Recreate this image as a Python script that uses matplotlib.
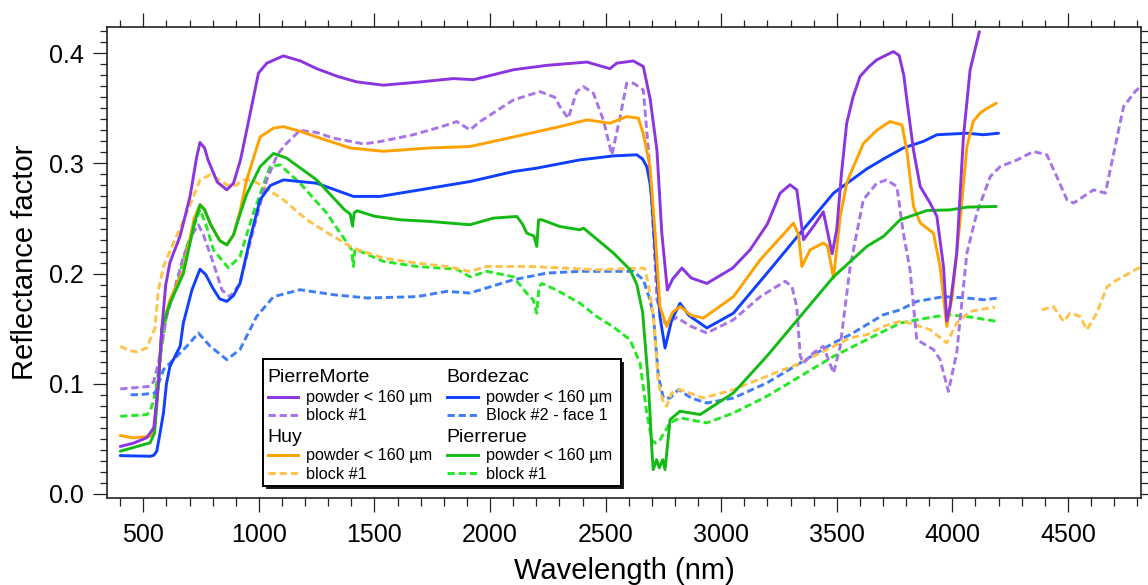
import numpy as np
import matplotlib
matplotlib.use("Agg")
import matplotlib.pyplot as plt
from matplotlib.lines import Line2D
from matplotlib.patches import Rectangle
from matplotlib.ticker import MultipleLocator

plt.rcParams['font.family'] = ['Liberation Sans', 'DejaVu Sans']

# ---------------- data (wavelength nm, reflectance factor) ----------------
pm_powder_wl = [400, 457, 515, 545, 565, 580, 597, 615, 659, 702, 730, 745, 765, 780, 820, 861, 890, 920,
                947, 998, 1034, 1106, 1180, 1250, 1340, 1423, 1539, 1700, 1841, 1928, 2101, 2245, 2419,
                2519, 2548, 2620, 2663, 2693, 2722, 2743, 2767, 2790, 2830, 2870, 2938, 3050, 3125, 3200,
                3255, 3298, 3327, 3356, 3399, 3442, 3480, 3500, 3520, 3543, 3570, 3601, 3640, 3673, 3745,
                3770, 3790, 3803, 3832, 3861, 3904, 3933, 3962, 3976, 3990, 4019, 4048, 4077, 4117]
pm_powder_r = [0.043, 0.046, 0.051, 0.060, 0.100, 0.150, 0.190, 0.210, 0.234, 0.270, 0.305, 0.319, 0.314,
               0.303, 0.283, 0.276, 0.282, 0.303, 0.330, 0.382, 0.391, 0.3976, 0.393, 0.386, 0.379, 0.374,
               0.371, 0.374, 0.377, 0.376, 0.385, 0.389, 0.392, 0.386, 0.391, 0.393, 0.388, 0.358, 0.312,
               0.237, 0.185, 0.195, 0.205, 0.196, 0.191, 0.205, 0.2216, 0.245, 0.273, 0.2806, 0.276,
               0.2307, 0.2427, 0.256, 0.218, 0.240, 0.290, 0.3365, 0.360, 0.379, 0.388, 0.394, 0.4015,
               0.398, 0.380, 0.358, 0.312, 0.279, 0.264, 0.252, 0.206, 0.157, 0.170, 0.2186, 0.324, 0.385,
               0.4196]

pm_block_wl = [400, 529, 545, 565, 601, 640, 673, 710, 738, 760, 803, 840, 875, 918, 976, 1034, 1080, 1120,
               1178, 1250, 1322, 1452, 1524, 1668, 1800, 1856, 1913, 1957, 2101, 2216, 2280, 2302, 2338,
               2375, 2404, 2447, 2490, 2527, 2563, 2591, 2620, 2663, 2685, 2707, 2722, 2757, 2808, 2870,
               2938, 3053, 3169, 3277, 3306, 3327, 3342, 3356, 3399, 3442, 3486, 3515, 3558, 3615, 3673,
               3716, 3760, 3788, 3817, 3846, 3918, 3947, 3983, 4019, 4063, 4106, 4164, 4207, 4279, 4351,
               4409, 4452, 4496, 4525, 4611, 4662, 4698, 4741, 4791, 4815]
pm_block_r = [0.0952, 0.0976, 0.102, 0.1188, 0.161, 0.190, 0.2155, 0.235, 0.2443, 0.235, 0.2095, 0.185,
              0.179, 0.191, 0.240, 0.285, 0.308, 0.3183, 0.330, 0.328, 0.323, 0.3177, 0.3198, 0.326, 0.334,
              0.338, 0.3304, 0.338, 0.3576, 0.3652, 0.360, 0.3516, 0.341, 0.3652, 0.3697, 0.3637, 0.3395,
              0.3078, 0.3425, 0.3728, 0.3728, 0.3667, 0.312, 0.237, 0.176, 0.155, 0.160, 0.152, 0.146,
              0.158, 0.179, 0.193, 0.188, 0.170, 0.1248, 0.1188, 0.128, 0.134, 0.1097, 0.134, 0.2064,
              0.267, 0.282, 0.285, 0.279, 0.2367, 0.2035, 0.140, 0.131, 0.122, 0.093, 0.128, 0.2186, 0.2549,
              0.288, 0.2971, 0.303, 0.3108, 0.3078, 0.288, 0.267, 0.264, 0.276, 0.273, 0.309, 0.3516,
              0.3652, 0.370]

bz_powder_wl = [400, 529, 545, 558, 572, 587, 600, 615, 659, 673, 710, 745, 770, 800, 830, 861, 890, 918,
                960, 1005, 1050, 1106, 1250, 1409, 1524, 1697, 1913, 2101, 2202, 2389, 2534, 2635, 2660,
                2678, 2692, 2700, 2714, 2735, 2757, 2786, 2822, 2860, 2938, 3053, 3197, 3342, 3486, 3558,
                3630, 3702, 3788, 3875, 3933, 4063, 4135, 4200]
bz_powder_r = [0.0347, 0.0341, 0.035, 0.0387, 0.055, 0.0735, 0.100, 0.1157, 0.134, 0.155, 0.185, 0.204,
               0.199, 0.187, 0.177, 0.1747, 0.180, 0.191, 0.230, 0.267, 0.280, 0.285, 0.282, 0.270, 0.270,
               0.276, 0.2835, 0.2926, 0.2957, 0.3032, 0.3068, 0.3078, 0.304, 0.297, 0.282, 0.267, 0.2216,
               0.161, 0.1324, 0.158, 0.173, 0.162, 0.1506, 0.164, 0.200, 0.2367, 0.273, 0.284, 0.295,
               0.304, 0.314, 0.320, 0.326, 0.3274, 0.326, 0.3274]

bz_block_wl = [445, 486, 551, 587, 630, 688, 738, 789, 861, 918, 990, 1063, 1178, 1322, 1467, 1683, 1813,
               1913, 2101, 2245, 2389, 2534, 2620, 2663, 2692, 2707, 2728, 2750, 2779, 2815, 2870, 2938,
               3053, 3197, 3342, 3486, 3558, 3630, 3702, 3774, 3846, 3962, 4063, 4135, 4200]
bz_block_r = [0.090, 0.090, 0.0916, 0.1127, 0.1218, 0.134, 0.146, 0.134, 0.1218, 0.131, 0.161, 0.179,
              0.1853, 0.1808, 0.1778, 0.179, 0.1838, 0.1823, 0.1944, 0.2004, 0.202, 0.202, 0.202, 0.1944,
              0.176, 0.161, 0.1067, 0.087, 0.087, 0.0946, 0.087, 0.0825, 0.087, 0.1006, 0.1188, 0.137,
              0.1445, 0.1536, 0.1626, 0.167, 0.1747, 0.179, 0.1778, 0.1762, 0.1778]

huy_powder_wl = [400, 457, 529, 550, 565, 580, 615, 673, 720, 745, 765, 790, 830, 861, 890, 920, 947, 1005,
                 1063, 1106, 1180, 1250, 1394, 1538, 1740, 1913, 2101, 2302, 2419, 2519, 2591, 2642, 2663,
                 2692, 2714, 2735, 2764, 2790, 2822, 2870, 2923, 3053, 3169, 3313, 3335, 3349, 3385, 3442,
                 3460, 3486, 3515, 3543, 3558, 3615, 3673, 3730, 3782, 3803, 3832, 3861, 3918, 3947, 3976,
                 4000, 4034, 4063, 4090, 4120, 4150, 4190]
huy_powder_r = [0.0529, 0.0508, 0.0523, 0.060, 0.100, 0.150, 0.176, 0.203, 0.250, 0.2624, 0.258, 0.245,
                0.230, 0.226, 0.235, 0.258, 0.285, 0.324, 0.332, 0.3334, 0.329, 0.324, 0.314, 0.311, 0.314,
                0.3153, 0.324, 0.3334, 0.3395, 0.3365, 0.3425, 0.341, 0.327, 0.297, 0.237, 0.170, 0.152,
                0.165, 0.170, 0.162, 0.1596, 0.179, 0.2125, 0.2458, 0.235, 0.2064, 0.2216, 0.2277, 0.225,
                0.196, 0.2518, 0.282, 0.290, 0.318, 0.330, 0.338, 0.335, 0.312, 0.261, 0.246, 0.2367, 0.2064,
                0.152, 0.180, 0.2488, 0.315, 0.338, 0.3456, 0.350, 0.3546]

huy_block_wl = [400, 440, 471, 515, 529, 550, 565, 587, 630, 688, 745, 789, 830, 861, 900, 933, 970, 1019,
                1106, 1207, 1322, 1409, 1539, 1683, 1813, 1913, 1986, 2173, 2317, 2461, 2663, 2670, 2685,
                2707, 2728, 2750, 2764, 2786, 2822, 2923, 3053, 3197, 3342, 3486, 3558, 3630, 3702, 3774,
                3817, 3904, 3976, 4019, 4077, 4185, 4280, 4387, 4437, 4481, 4510, 4553, 4582, 4625, 4669,
                4712, 4791, 4815]
huy_block_r = [0.134, 0.130, 0.129, 0.1324, 0.140, 0.150, 0.185, 0.2065, 0.2277, 0.2549, 0.285, 0.2896,
               0.285, 0.2805, 0.280, 0.285, 0.285, 0.279, 0.267, 0.2488, 0.2337, 0.223, 0.214, 0.2095,
               0.2064, 0.2019, 0.2064, 0.2064, 0.205, 0.2034, 0.205, 0.204, 0.190, 0.161, 0.1006, 0.0825,
               0.0795, 0.0916, 0.0946, 0.087, 0.0946, 0.1067, 0.1188, 0.134, 0.1415, 0.1445, 0.152, 0.1566,
               0.155, 0.149, 0.137, 0.155, 0.1656, 0.1696, np.nan, 0.167, 0.170, 0.1566, 0.164, 0.161,
               0.149, 0.164, 0.188, 0.194, 0.2034, 0.206]

pr_powder_wl = [400, 529, 548, 565, 580, 615, 673, 720, 745, 765, 790, 830, 861, 890, 920, 947, 1005, 1063,
                1120, 1250, 1370, 1395, 1405, 1412, 1425, 1500, 1611, 1740, 1913, 2014, 2116, 2140, 2159,
                2190, 2202, 2210, 2224, 2302, 2389, 2404, 2534, 2606, 2635, 2649, 2660, 2685, 2700, 2706,
                2721, 2732, 2747, 2757, 2779, 2822, 2909, 3053, 3197, 3342, 3486, 3630, 3702, 3774, 3890,
                3991, 4063, 4190]
pr_powder_r = [0.0387, 0.0463, 0.055, 0.100, 0.150, 0.173, 0.200, 0.245, 0.2624, 0.258, 0.245, 0.230,
               0.226, 0.235, 0.255, 0.272, 0.297, 0.309, 0.3048, 0.285, 0.258, 0.254, 0.243, 0.255, 0.257,
               0.252, 0.2488, 0.2473, 0.2443, 0.2503, 0.2518, 0.245, 0.2367, 0.234, 0.2246, 0.2488, 0.2488,
               0.2427, 0.2397, 0.2413, 0.2186, 0.2034, 0.190, 0.176, 0.165, 0.1007, 0.0402, 0.022, 0.031,
               0.0236, 0.031, 0.022, 0.0674, 0.075, 0.072, 0.0916, 0.1248, 0.161, 0.197, 0.2246, 0.2337,
               0.2488, 0.2572, 0.2578, 0.2603, 0.2609]

pr_block_wl = [400, 515, 529, 545, 558, 580, 601, 644, 688, 745, 770, 803, 868, 918, 976, 1048, 1091, 1178,
               1293, 1387, 1400, 1409, 1415, 1423, 1539, 1683, 1856, 1913, 1986, 2101, 2159, 2187, 2202,
               2212, 2224, 2288, 2389, 2461, 2530, 2605, 2649, 2678, 2700, 2714, 2735, 2779, 2822, 2938,
               3053, 3197, 3342, 3486, 3558, 3630, 3702, 3774, 3846, 3976, 4063, 4192]
pr_block_r = [0.0704, 0.0719, 0.075, 0.085, 0.1007, 0.134, 0.164, 0.188, 0.2246, 0.258, 0.245, 0.2216,
              0.205, 0.2155, 0.2549, 0.297, 0.2987, 0.282, 0.2549, 0.226, 0.222, 0.2064, 0.222, 0.2216,
              0.211, 0.2064, 0.204, 0.197, 0.202, 0.197, 0.182, 0.176, 0.164, 0.188, 0.191, 0.185, 0.173,
              0.161, 0.152, 0.140, 0.1188, 0.0734, 0.049, 0.046, 0.049, 0.0644, 0.069, 0.0644, 0.0734,
              0.0885, 0.1067, 0.1248, 0.1324, 0.140, 0.1475, 0.155, 0.158, 0.1626, 0.161, 0.1566]

site_names = ["PierreMorte", "Bordezac", "Huy", "Pierrerue"]
powder_label = "powder < 160 µm"
block_labels = ["block #1", "Block #2 - face 1", "block #1", "block #1"]
powder_colors = ["#8B35E0", "#1040FF", "#FFA200", "#14BA14"]
block_colors = ["#A774E8", "#3F7DF7", "#FFC24A", "#25E825"]

x_ticks = [500, 1000, 1500, 2000, 2500, 3000, 3500, 4000, 4500]
y_ticks = [0.0, 0.1, 0.2, 0.3, 0.4]

powders = [(pm_powder_wl, pm_powder_r), (bz_powder_wl, bz_powder_r),
           (huy_powder_wl, huy_powder_r), (pr_powder_wl, pr_powder_r)]
blocks = [(pm_block_wl, pm_block_r), (bz_block_wl, bz_block_r),
          (huy_block_wl, huy_block_r), (pr_block_wl, pr_block_r)]

# ---------------- figure ----------------
W, H = 1148, 585
fig = plt.figure(figsize=(W / 100, H / 100), dpi=100)
ax_l, ax_r, ax_t, ax_b = 107.3, 1140.7, 26.7, 497.8
ax = fig.add_axes([ax_l / W, 1 - ax_b / H, (ax_r - ax_l) / W, (ax_b - ax_t) / H])

LW = 2.1
DASH = (2.5, 1.3)
# dashed block spectra first
for i in [3, 1, 2, 0]:
    wl, r = blocks[i]
    ax.plot(wl, r, color=block_colors[i], lw=LW, dashes=DASH)
# solid powder spectra, order: blue, orange, green, purple
for i in [1, 2, 3, 0]:
    wl, r = powders[i]
    ax.plot(wl, r, color=powder_colors[i], lw=LW, solid_joinstyle='round', solid_capstyle='round')

ax.set_xlim(344, 4815)
ax.set_ylim(-0.0036, 0.4241)
ax.set_xticks(x_ticks)
ax.set_xticklabels([str(v) for v in x_ticks])
ax.set_yticks(y_ticks)
ax.set_yticklabels([f"{v:.1f}" for v in y_ticks])
ax.xaxis.set_minor_locator(MultipleLocator(100))
ax.yaxis.set_minor_locator(MultipleLocator(0.01))
ax.tick_params(which='both', direction='out', top=True, right=True, labeltop=False, labelright=False,
               color='#222222', width=0.9, labelsize=18)
ax.tick_params(which='major', length=10)
ax.tick_params(which='minor', length=5.4)
ax.tick_params(axis='x', which='major', pad=8.5)
ax.tick_params(axis='y', which='major', pad=7)
for s in ax.spines.values():
    s.set_linewidth(1.2)
    s.set_color('#222222')

fig.text(25.5 / W, 1 - 262.3 / H, "Reflectance factor", rotation=90, ha='center', va='center', fontsize=21)
fig.text(624 / W, 1 - 579 / H, "Wavelength (nm)", ha='center', va='baseline', fontsize=21)

# ---------------- legend (custom, two columns with headers) ----------------
def fx(px):
    return px / W

def fy(py):
    return 1 - py / H

bx0, bx1, by0, by1 = 262.7, 620.7, 359.0, 485.7
fig.add_artist(Rectangle((fx(bx0 + 3), fy(by1 + 3)), fx(bx1) - fx(bx0), fy(by0) - fy(by1),
                         transform=fig.transFigure, facecolor='#1a1a1a', edgecolor='none', zorder=5))
fig.add_artist(Rectangle((fx(bx0), fy(by1)), fx(bx1) - fx(bx0), fy(by0) - fy(by1),
                         transform=fig.transFigure, facecolor='white', edgecolor='black', lw=1.4, zorder=6))

col_header_x = [267.0, 446.0]
col_handle_x = [(268.3, 298.3), (447.3, 478.3)]
col_text_x = [306.0, 486.0]
header_base = [381.7, 441.7]
item_line_y = [(396.7, 415.0), (455.0, 473.3)]
item_base = [(401.7, 420.0), (460.0, 479.0)]

for k, name in enumerate(site_names):
    col = k % 2
    grp = k // 2
    fig.text(fx(col_header_x[col]), fy(header_base[grp]), name, fontsize=14, va='baseline', ha='left', zorder=8)
    labels = [powder_label, block_labels[k]]
    colors = [powder_colors[k], block_colors[k]]
    for j in range(2):
        x0, x1 = col_handle_x[col]
        ly = item_line_y[grp][j]
        ln = Line2D([fx(x0), fx(x1)], [fy(ly), fy(ly)], transform=fig.transFigure, color=colors[j],
                    lw=LW, zorder=7)
        if j == 1:
            ln.set_dashes(DASH)
        fig.add_artist(ln)
        fig.text(fx(col_text_x[col]), fy(item_base[grp][j]), labels[j], fontsize=11.7, va='baseline',
                 ha='left', zorder=8)

fig.savefig("out.png", dpi=100)
